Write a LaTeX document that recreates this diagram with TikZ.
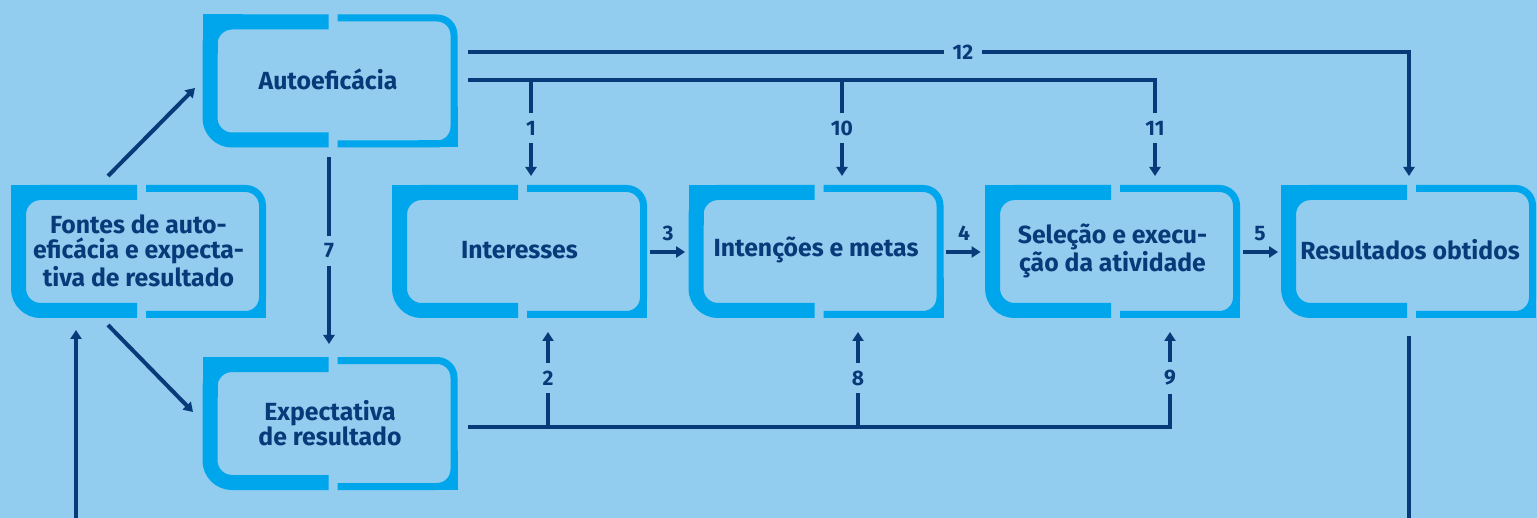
\documentclass[tikz,border=0pt]{standalone}
\usepackage{fontspec}
\setmainfont{Fira Sans}
\usetikzlibrary{arrows.meta}
\definecolor{bg}{HTML}{92CCEF}
\definecolor{frame}{HTML}{00A6EB}
\definecolor{ink}{HTML}{063A78}

% frame around a box: left x, top y, right x, bottom y, centre of the gap
\newcommand\splitframe[5]{%
  \draw[frame, line width=7.5pt, rounded corners=11pt]
    (#5-4.5,#2+7.5) -- (#1+7.5,#2+7.5) -- (#1+7.5,#4-7.5) -- (#5-4.5,#4-7.5);
  \draw[frame, line width=7.5pt] (#1+7.5,#2+40) -- (#1+7.5,#2+7.5) -- (#1+40,#2+7.5);
  \draw[frame, line width=3.5pt, rounded corners=8.5pt]
    (#5+4.5,#2+3.5) -- (#3-3.5,#2+3.5) -- (#3-3.5,#4-3.5) -- (#5+4.5,#4-3.5);
  \draw[frame, line width=3.5pt] (#3-3.5,#4-40) -- (#3-3.5,#4-3.5) -- (#3-40,#4-3.5);
}

\tikzset{
  x=0.5pt, y=-0.5pt,
  box/.style={minimum width=127.5pt, minimum height=66.5pt, inner sep=0pt,
    align=center, text=ink, font=\bfseries\fontsize{12.4}{12.6}\selectfont},
  link/.style={draw=ink, line width=2pt},
  arr/.style={link, -{Triangle[width=5.5pt,length=4.5pt]}},
  num/.style={fill=bg, text=ink, inner xsep=4.5pt, inner ysep=4pt,
    font=\bfseries\fontsize{10.5}{11}\selectfont},
}

\begin{document}
\begin{tikzpicture}
\fill[bg] (0,0) rectangle (1537,518);
\useasboundingbox (0,0) rectangle (1537,518);

% frames
\splitframe{11}{185}{266}{318}{141.5}
\splitframe{202.5}{14.5}{457.5}{147.5}{333}
\splitframe{202.5}{357}{457.5}{490}{333}
\splitframe{392}{185}{647}{318}{522.5}
\splitframe{688.5}{185}{943.5}{318}{819}
\splitframe{985}{185}{1240}{318}{1115.5}
\splitframe{1281}{185}{1536}{318}{1411.5}

% boxes
\node[box] (fontes) at (138.5,251) {Fontes de auto-\\eficácia e expecta-\\tiva de resultado};
\node[box] (auto) at (328,79) {Autoeficácia};
\node[box] (expect) at (330,423.5) {Expectativa\\de resultado};
\node[box] (inter) at (519.5,250) {Interesses};
\node[box] (inten) at (816,250) {Intenções e metas};
\node[box] (selec) at (1112.5,251) {Seleção e execu-\\ção da atividade};
\node[box] (result) at (1410,250) {Resultados obtidos};

% junction points
\coordinate (fa) at (108,176);
\coordinate (fb) at (195,88);
\coordinate (fc) at (108,325);
\coordinate (fd) at (193,412);
\coordinate (fin) at (76,518);
\coordinate (fup) at (76,330);
\coordinate (rout) at (1409,336);
\coordinate (rend) at (1409,518);
\coordinate (a12) at (468,52);
\coordinate (a12e) at (1409,176);
\coordinate (aline) at (468,80);
\coordinate (d1) at (531,80);
\coordinate (d10) at (842,80);
\coordinate (d11e) at (1155,176);
\coordinate (eline) at (468,427);
\coordinate (u2) at (548,427);
\coordinate (u8) at (858,427);
\coordinate (u9e) at (1170,332);
\coordinate (s7) at (329,157);
\coordinate (e7) at (329,344);
\coordinate (h3) at (650,252);
\coordinate (h4) at (946,252);
\coordinate (h5) at (1243,252);

% connectors
\draw[arr] (fa) -- (fb);
\draw[arr] (fc) -- (fd);
\draw[arr] (fin) -- (fup);
\draw[link] (rout) -- (rend);
\draw[arr] (a12) -| (a12e);
\draw[arr] (aline) -| (d11e);
\draw[arr] (d1) -- (d1 |- d11e);
\draw[arr] (d10) -- (d10 |- d11e);
\draw[arr] (eline) -| (u9e);
\draw[arr] (u2) -- (u2 |- u9e);
\draw[arr] (u8) -- (u8 |- u9e);
\draw[arr] (s7) -- (e7);
\draw[arr, shorten >=1.5pt] (h3) -- (h3 -| inten.west);
\draw[arr, shorten >=2pt] (h4) -- (h4 -| selec.west);
\draw[arr, shorten >=2pt] (h5) -- (h5 -| result.west);

% labels
\node[num] at (963,52) {12};
\node[num] at (531,128) {1};
\node[num] at (842,128) {10};
\node[num] at (1155,128) {11};
\node[num] at (329,251) {7};
\node[num] at (548,378) {2};
\node[num] at (858,378) {8};
\node[num] at (1170,378) {9};
\node[num, fill=none] at (668,233) {3};
\node[num, fill=none] at (964,233) {4};
\node[num, fill=none] at (1260,234) {5};
\end{tikzpicture}
\end{document}
